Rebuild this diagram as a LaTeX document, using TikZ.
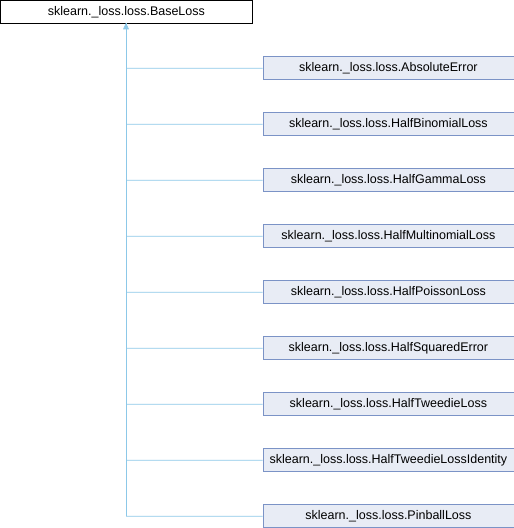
\documentclass[tikz,border=0pt]{standalone}
\usepackage{fontspec}
\setmainfont{Liberation Sans}
\usetikzlibrary{arrows.meta}
\definecolor{edgeblue}{HTML}{8CC8E8}
\definecolor{boxfill}{HTML}{E8ECF5}
\definecolor{boxdraw}{HTML}{7B93C6}
\tikzset{
  base/.style={draw=black, fill=white, line width=0.8pt, minimum width=251bp, minimum height=23bp, inner sep=0pt, anchor=north west, font=\fontsize{12.5bp}{14bp}\selectfont},
  child/.style={draw=boxdraw, fill=boxfill, line width=0.8pt, minimum width=251bp, minimum height=23bp, inner sep=0pt, anchor=north west, font=\fontsize{12.5bp}{14bp}\selectfont},
  inh/.style={draw=edgeblue, line width=0.8pt}
}
\begin{document}
\begin{tikzpicture}[x=1bp,y=-1bp]
\useasboundingbox (0,0) rectangle (514,528);
\node[base] (b) at (0.5,0.5) {sklearn.\_loss.loss.BaseLoss};
\coordinate (top) at (126,23.5);
\coordinate (bot) at (126,516);
\foreach \i/\t in {1/AbsoluteError,2/HalfBinomialLoss,3/HalfGammaLoss,4/HalfMultinomialLoss,5/HalfPoissonLoss,6/HalfSquaredError,7/HalfTweedieLoss,8/HalfTweedieLossIdentity,9/PinballLoss}{
  \node[child] (c\i) at (262.5,{56*\i+0.3}) {sklearn.\_loss.loss.\t};
  \coordinate (j\i) at (126,{56*\i+12.3});
  \draw[inh] (j\i) -- (c\i.west);
}
\draw[inh] (j9) -- (top);
\draw[draw=edgeblue, fill=edgeblue, line width=0.6pt] (top) -- (123.5,29) -- (128.5,29) -- cycle;
\end{tikzpicture}
\end{document}
